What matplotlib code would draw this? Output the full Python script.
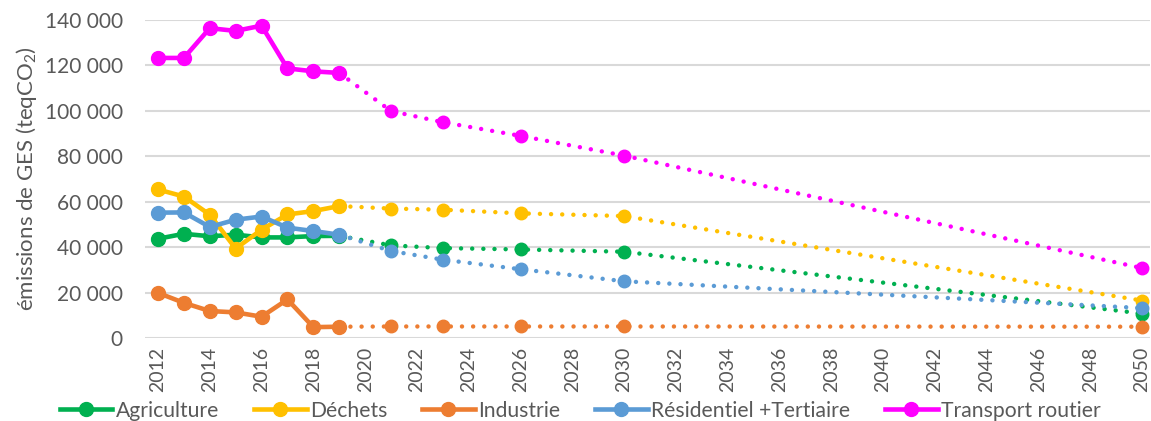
import matplotlib
matplotlib.use("Agg")
import matplotlib.pyplot as plt
from matplotlib.ticker import FuncFormatter, MultipleLocator

plt.rcParams["font.family"] = ["Lato", "DejaVu Sans"]
plt.rcParams["mathtext.fontset"] = "custom"
plt.rcParams["mathtext.rm"] = "Lato"
plt.rcParams["mathtext.it"] = "Lato:italic"

# historical values (2012-2019)
years_hist = [2012, 2013, 2014, 2015, 2016, 2017, 2018, 2019]
agriculture = [43700, 45900, 44800, 45500, 44300, 44300, 44900, 45000]
dechets = [65400, 62300, 54300, 39400, 47700, 54400, 55900, 58100]
industrie = [19900, 15500, 11900, 11300, 9400, 17000, 4800, 5000]
residentiel = [55200, 55300, 48900, 52100, 53500, 48600, 47100, 45500]
transport = [123300, 123300, 136400, 135200, 137500, 118700, 117400, 116700]

# projections (from 2019 on)
years_proj = [2019, 2021, 2023, 2026, 2030, 2050]
agriculture_proj = [45000, 40800, 39600, 39000, 38000, 10800]
dechets_proj = [58100, 57000, 56500, 54900, 53700, 16500]
industrie_proj = [5000, 5100, 5100, 5100, 5100, 5000]
residentiel_proj = [45500, 38300, 34500, 30300, 25000, 13200]
transport_proj = [116700, 99900, 95000, 89000, 80300, 30800]

labels = ["Agriculture", "Déchets", "Industrie", "Résidentiel +Tertiaire", "Transport routier"]
colors = ["#00B050", "#FFC000", "#ED7D31", "#5B9BD5", "#FF00FF"]
hist = [agriculture, dechets, industrie, residentiel, transport]
proj = [agriculture_proj, dechets_proj, industrie_proj, residentiel_proj, transport_proj]

fig, ax = plt.subplots(figsize=(11.51, 4.21), dpi=100)
fig.subplots_adjust(left=0.126, right=0.999, top=0.9525, bottom=0.197)

for h, p, c, lab in zip(hist, proj, colors, labels):
    ax.plot(years_proj, p, color=c, lw=3.2, linestyle=(0, (0.01, 2.5)),
            dash_capstyle="round", zorder=2, clip_on=False)
    ax.plot(years_proj[1:], p[1:], linestyle="none", marker="o", ms=9,
            color=c, zorder=3, clip_on=False)
    ax.plot(years_hist, h, color=c, lw=3.3, marker="o", ms=10, label=lab,
            zorder=4, clip_on=False)

ax.set_xlim(2011.5, 2050.3)
ax.set_ylim(0, 140000)
ax.xaxis.set_major_locator(MultipleLocator(2))
ax.yaxis.set_major_locator(MultipleLocator(20000))
ax.yaxis.set_major_formatter(FuncFormatter(lambda v, pos: f"{int(v):,}".replace(",", " ")))
ax.tick_params(axis="x", labelrotation=90, length=0, pad=6, labelsize=14, colors="#595959")
ax.tick_params(axis="y", length=0, pad=16, labelsize=15, colors="#595959")

ax.grid(axis="y", color="#D9D9D9", lw=1.5)
ax.set_axisbelow(True)
for s in ax.spines.values():
    s.set_visible(False)

ax.set_ylabel("émissions de GES (teqCO$_2$)", fontsize=16, color="#595959", labelpad=4)

ax.legend(loc="center", bbox_to_anchor=(0.433, -0.228), ncol=5, frameon=False,
          fontsize=15.2, handlelength=2.5, handletextpad=0.15, columnspacing=1.65,
          labelcolor="#595959")

plt.savefig("out.png", dpi=100)
